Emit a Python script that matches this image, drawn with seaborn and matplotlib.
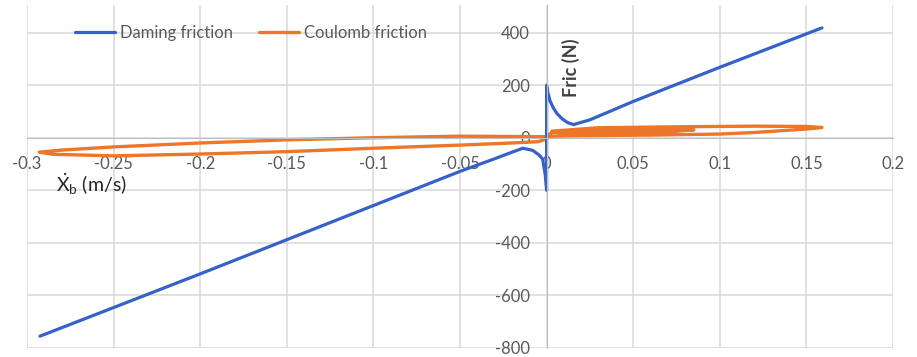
import matplotlib
matplotlib.use("Agg")
import matplotlib.pyplot as plt
import seaborn as sns
import pandas as pd

# Damping friction (blue)
damp_x = [-0.2925, -0.2, -0.1, -0.05, -0.03, -0.02, -0.0137, -0.008, -0.0045, -0.0023,
          -0.0008, 0.0, 0.0, 0.0008, 0.002, 0.004, 0.006, 0.009, 0.012, 0.0155,
          0.025, 0.05, 0.1, 0.159]
damp_y = [-755, -518, -258, -128, -80, -55, -40, -48, -65, -81,
          -140, -200, 200, 170, 140, 112, 92, 72, 58, 50,
          68, 138, 268, 418]

# Coulomb friction (orange), hysteresis loops
coul_x = [0.0, 0.003, 0.03, 0.06, 0.085, 0.07, 0.04, 0.01, 0.003,
          0.03, 0.08, 0.12, 0.15, 0.159, 0.15, 0.12, 0.1, 0.06, 0.02, 0.003, 0.0,
          -0.005, -0.05, -0.1, -0.15, -0.2, -0.25, -0.28, -0.293, -0.285, -0.25,
          -0.2, -0.15, -0.1, -0.05, -0.02, -0.005, 0.0, 0.002]
coul_y = [5, 20, 26, 30, 30, 22, 17, 14, 25,
          38, 42, 44, 43, 39, 33, 20, 14, 10, 8, 6, 4,
          4, 6, 0, -8, -20, -35, -47, -55, -63, -69,
          -62, -53, -40, -28, -20, -15, -5, 8]

xticks = [-0.3, -0.25, -0.2, -0.15, -0.1, -0.05, 0, 0.05, 0.1, 0.15, 0.2]
xtick_labels = ["-0.3", "-0.25", "-0.2", "-0.15", "-0.1", "-0.05", "0", "0.05", "0.1", "0.15", "0.2"]
yticks = [-800, -600, -400, -200, 0, 200, 400]

sns.set_style("whitegrid")
plt.rcParams["font.family"] = ["Lato", "DejaVu Sans"]
plt.rcParams["mathtext.fontset"] = "custom"
plt.rcParams["mathtext.rm"] = "Lato"
plt.rcParams["mathtext.it"] = "Lato:italic"
plt.rcParams["axes.unicode_minus"] = False

blue = "#3462C8"
orange = "#EE7628"
grid = "#D9D9D9"
txt = "#595959"

fig = plt.figure(figsize=(9.17, 3.57), dpi=100)
ax = fig.add_axes([27 / 917, 9 / 357, 866 / 917, 343 / 357])

df_c = pd.DataFrame({"x": coul_x, "y": coul_y})
df_d = pd.DataFrame({"x": damp_x, "y": damp_y})
sns.lineplot(data=df_c, x="x", y="y", sort=False, estimator=None, color=orange,
             linewidth=2.4, ax=ax, label="Coulomb friction")
sns.lineplot(data=df_d, x="x", y="y", sort=False, estimator=None, color=blue,
             linewidth=2.3, ax=ax, label="Daming friction")

ax.set_xlim(-0.3, 0.2)
ax.set_ylim(-800, 505)
ax.set_xticks(xticks)
ax.set_xticklabels(xtick_labels)
ax.set_yticks(yticks)
ax.grid(True, color=grid, linewidth=1.1)
ax.set_axisbelow(True)

for s in ["top", "right"]:
    ax.spines[s].set_visible(False)
ax.spines["left"].set_position(("data", 0))
ax.spines["bottom"].set_position(("data", 0))
ax.spines["left"].set_color("#BFBFBF")
ax.spines["bottom"].set_color("#BFBFBF")
ax.tick_params(axis="both", length=0, labelsize=12, labelcolor=txt)
ax.tick_params(axis="y", pad=12)
ax.tick_params(axis="x", pad=13)
ax.set_xlabel("")
ax.set_ylabel("")

ax.text(0.009, 268, "Fric (N)", rotation=90, fontsize=13, fontweight="bold",
        color="#404040", ha="left", va="center")
ax.text(-0.283, -178, r"$\dot{\mathrm{X}}_\mathrm{b}$ (m/s)", fontsize=14,
        color="#262626", ha="left", va="center")

h, l = ax.get_legend_handles_labels()
ax.legend(h[::-1], l[::-1], loc="center left", bbox_to_anchor=(75 / 917, 1 - 33 / 357),
          bbox_transform=fig.transFigure, ncol=2, frameon=False, fontsize=12,
          labelcolor=txt, handlelength=2.4, handletextpad=0.3, columnspacing=1.55,
          borderaxespad=0, borderpad=0)

plt.savefig("out.png", dpi=100)
